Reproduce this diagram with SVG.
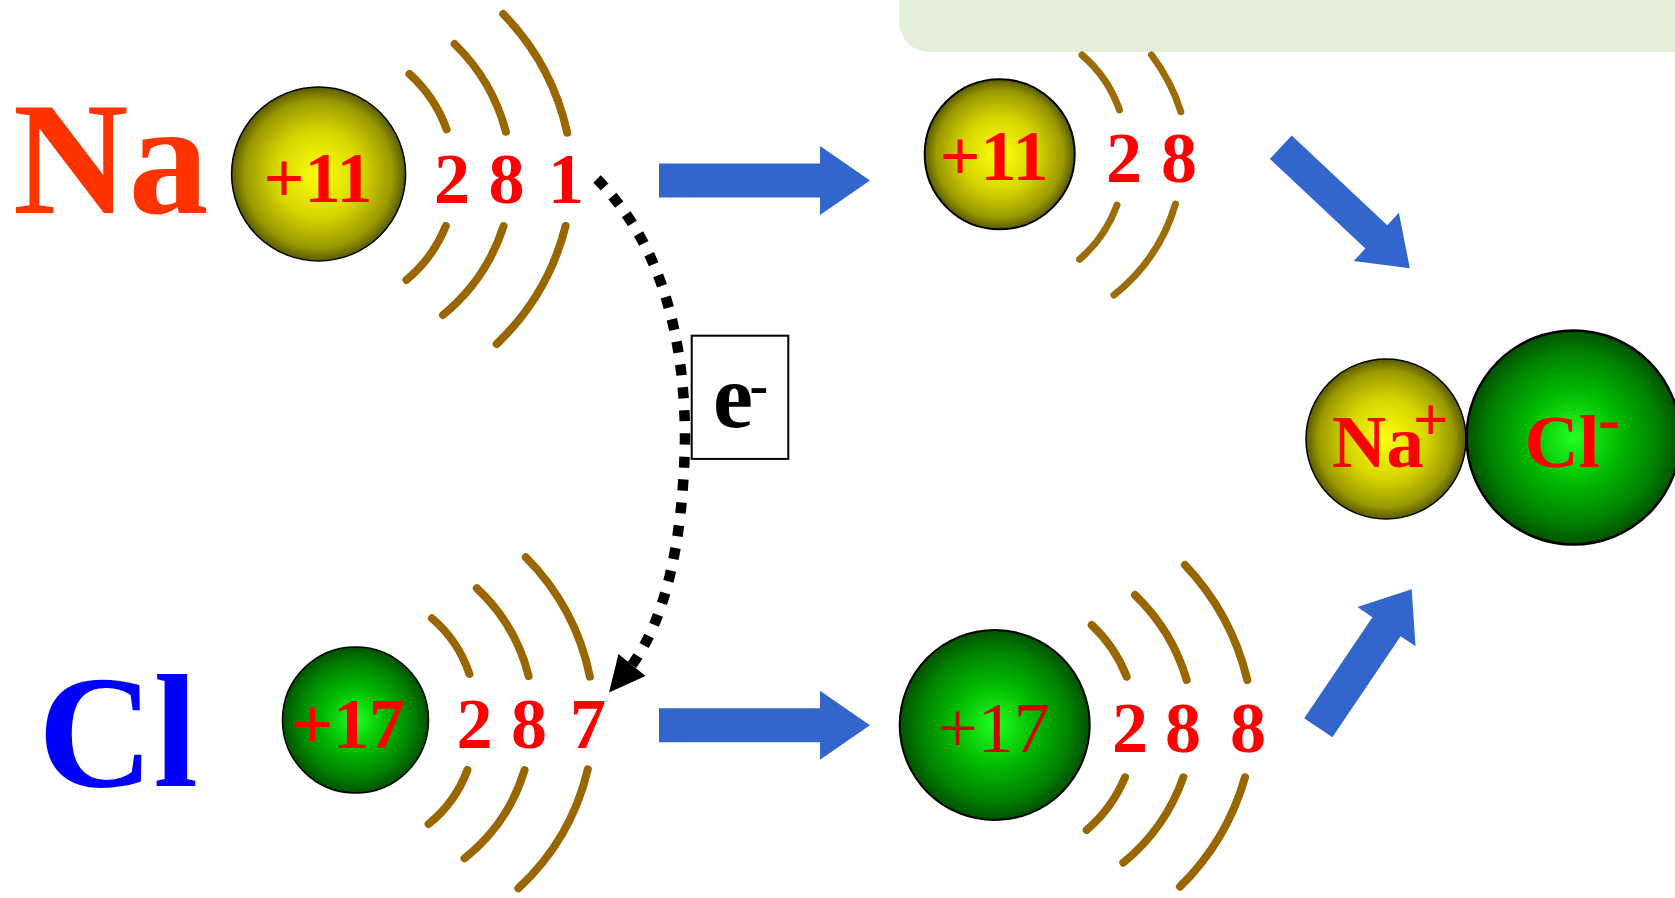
<svg xmlns="http://www.w3.org/2000/svg" width="1675" height="898" viewBox="0 0 1675 898">
  <defs>
    <radialGradient id="gYellow" cx="50%" cy="50%" r="50%">
      <stop offset="0" stop-color="#ffff10"/>
      <stop offset="0.5" stop-color="#d6d600"/>
      <stop offset="0.85" stop-color="#999900"/>
      <stop offset="1" stop-color="#5a5a00"/>
    </radialGradient>
    <radialGradient id="gGreen" cx="50%" cy="50%" r="50%">
      <stop offset="0" stop-color="#22ff22"/>
      <stop offset="0.45" stop-color="#00b800"/>
      <stop offset="0.8" stop-color="#008000"/>
      <stop offset="1" stop-color="#005200"/>
    </radialGradient>
    <style>
      .shell { fill: none; stroke: #996600; stroke-width: 8; stroke-linecap: round; }
      .shell-thin { fill: none; stroke: #9c6c08; stroke-width: 7; stroke-linecap: round; }
      .num { font-family: "Liberation Serif", "Times New Roman", serif; font-weight: bold; font-size: 72px; fill: #ff0000; text-anchor: middle; }
      .sym { font-family: "Liberation Serif", "Times New Roman", serif; font-weight: bold; }
      .arrow { fill: #3366cc; }
      .core { stroke: #000; stroke-width: 1.5; }
    </style>
  </defs>

  <rect width="1675" height="898" fill="#ffffff"/>

  <!-- header bar -->
  <rect id="header-bar" x="899" y="-40" width="820" height="92" rx="30" fill="#e2f0d9"/>

  <!-- sodium atom -->
  <g id="na-atom">
    <text class="sym" x="13" y="213" font-size="160" fill="#ff3300">Na</text>
    <circle class="core" cx="318.6" cy="174" r="87" fill="url(#gYellow)"/>
    <text class="num" x="318" y="202">+11</text>
    <text class="num" x="452" y="203">2</text>
    <text class="num" x="506.5" y="203">8</text>
    <text class="num" x="566" y="203">1</text>
    <path class="shell" d="M409.5,74 A137,137 0 0 1 446.6,129.3"/>
    <path class="shell" d="M445.8,226 A137,137 0 0 1 406.4,280"/>
    <path class="shell" d="M454.6,44 A190,190 0 0 1 505.9,131.7"/>
    <path class="shell" d="M503.6,226 A190,190 0 0 1 443,315"/>
    <path class="shell" d="M503.2,14 A246,246 0 0 1 567.2,132.7"/>
    <path class="shell" d="M565.6,226 A246,246 0 0 1 496.7,344"/>
  </g>

  <!-- chlorine atom -->
  <g id="cl-atom">
    <text class="sym" x="38" y="786" font-size="160" fill="#0000ff">Cl</text>
    <circle class="core" cx="355.5" cy="720" r="73" fill="url(#gGreen)"/>
    <text class="num" x="348.5" y="748">+17</text>
    <text class="num" x="474.5" y="748">2</text>
    <text class="num" x="529" y="748">8</text>
    <text class="num" x="588" y="748">7</text>
    <path class="shell" d="M431.9,618.3 A125,125 0 0 1 469.4,674"/>
    <path class="shell" d="M467.4,770 A125,125 0 0 1 428.6,824"/>
    <path class="shell" d="M476.8,588.3 A179,179 0 0 1 528.6,676"/>
    <path class="shell" d="M524.6,770 A179,179 0 0 1 464.5,858.3"/>
    <path class="shell" d="M525.8,557.3 A237,237 0 0 1 589.9,676.7"/>
    <path class="shell" d="M587.8,769.3 A237,237 0 0 1 518.4,888.3"/>
  </g>

  <!-- sodium ion -->
  <g id="na-ion">
    <circle cx="999.7" cy="154.3" r="75" fill="url(#gYellow)" stroke="#000" stroke-width="2"/>
    <text class="num" x="994" y="180" font-size="70" fill="#e60000">+11</text>
    <text class="num" x="1124" y="181.5" fill="#e60000">2</text>
    <text class="num" x="1179" y="181.5" fill="#e60000">8</text>
    <path class="shell-thin" d="M1082,55 A128,128 0 0 1 1119.5,110"/>
    <path class="shell-thin" d="M1117,205 A130,130 0 0 1 1079.6,259.3"/>
    <path class="shell-thin" d="M1151.5,55 A184,184 0 0 1 1180.8,111.7"/>
    <path class="shell-thin" d="M1175.5,204 A182,182 0 0 1 1114,295"/>
  </g>

  <!-- chloride ion -->
  <g id="cl-ion">
    <circle cx="994.7" cy="725" r="95" fill="url(#gGreen)" stroke="#000" stroke-width="2"/>
    <text x="993.5" y="751.7" font-family="'Liberation Serif', 'Times New Roman', serif" font-size="72" fill="#d40000" text-anchor="middle">+17</text>
    <text class="num" x="1130" y="751.7" fill="#e60000">2</text>
    <text class="num" x="1183" y="751.7" fill="#e60000">8</text>
    <text class="num" x="1248" y="751.7" fill="#e60000">8</text>
    <path class="shell" d="M1091.7,625 A140,140 0 0 1 1126.7,676.7"/>
    <path class="shell" d="M1125,777.3 A140,140 0 0 1 1086.7,830"/>
    <path class="shell" d="M1135,595 A194,194 0 0 1 1186.7,680"/>
    <path class="shell" d="M1183.3,777.3 A192,192 0 0 1 1123.3,862.7"/>
    <path class="shell" d="M1185,565 A252,252 0 0 1 1247.3,680"/>
    <path class="shell" d="M1245,777.3 A250,250 0 0 1 1180,886.7"/>
  </g>

  <!-- sodium chloride ion pair -->
  <g id="nacl">
    <circle cx="1386" cy="439" r="80" fill="url(#gYellow)" stroke="#000" stroke-width="1.5"/>
    <circle cx="1573.5" cy="437.5" r="107" fill="url(#gGreen)" stroke="#000" stroke-width="2.5"/>
    <text class="sym" font-size="75" fill="#ff0000"><tspan x="1332" y="467">Na</tspan><tspan x="1413" y="440" font-size="62">+</tspan></text>
    <text class="sym" font-size="75" fill="#ff0000"><tspan x="1524.5" y="467">Cl</tspan><tspan x="1598" y="440.5" font-size="66">-</tspan></text>
  </g>

  <!-- connectors -->
  <g id="connectors">
    <polygon class="arrow" transform="translate(659,180.5)" points="0,-17 161,-17 161,-34.5 211,0 161,34.5 161,17 0,17"/>
    <polygon class="arrow" transform="translate(659,725.3)" points="0,-17 161,-17 161,-34.5 211,0 161,34.5 161,17 0,17"/>
    <polygon class="arrow" transform="translate(1280.8,147.2) rotate(43.2)" points="0,-16 131,-16 131,-33 177,0 131,33 131,16 0,16"/>
    <polygon class="arrow" transform="translate(1318.3,727.8) rotate(-56)" points="0,-17 122,-17 122,-35 167,0 122,35 122,17 0,17"/>
    <path id="electron-path" d="M597,179 Q685,268 685,440 Q682,595 632,665" fill="none" stroke="#000" stroke-width="10.5" stroke-dasharray="11 12"/>
    <polygon points="609,692.5 618.5,654 645.5,676" fill="#000"/>
  </g>

  <!-- electron label -->
  <g id="electron-label">
    <rect x="691.7" y="335.7" width="96.6" height="123.2" fill="#fff" stroke="#000" stroke-width="2"/>
    <text class="sym" font-size="90" fill="#000"><tspan x="713" y="427">e</tspan><tspan x="749.5" y="404" font-size="56">-</tspan></text>
  </g>
</svg>
